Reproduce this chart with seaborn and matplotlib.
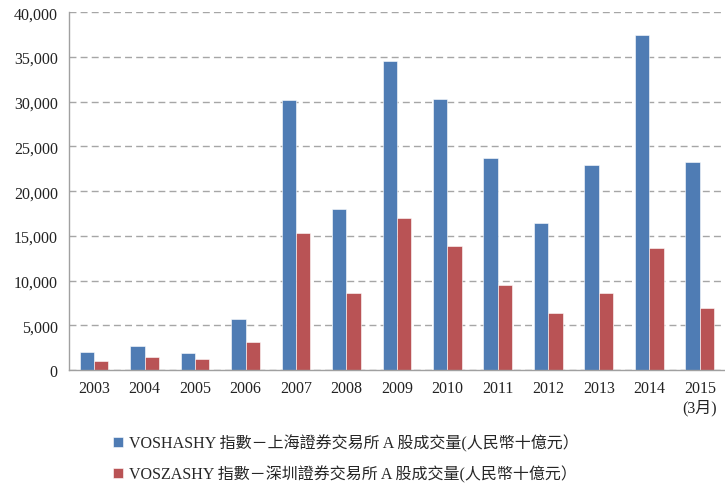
import seaborn as sns
import matplotlib.pyplot as plt
from matplotlib.ticker import FuncFormatter, FixedLocator
import pandas as pd
import numpy as np

years = ["2003", "2004", "2005", "2006", "2007", "2008", "2009", "2010",
         "2011", "2012", "2013", "2014", "2015\n(3月)"]
sh_volume = [2050, 2650, 1900, 5750, 30200, 18000, 34500, 30300,
             23700, 16400, 22900, 37500, 23300]
sz_volume = [1050, 1500, 1200, 3200, 15300, 8600, 17000, 13900,
             9500, 6400, 8600, 13600, 7000]
series_names = ["VOSHASHY 指數－上海證券交易所 A 股成交量(人民幣十億元）",
                "VOSZASHY 指數－深圳證券交易所 A 股成交量(人民幣十億元）"]
colors = ["#4F7CB4", "#B95355"]

df = pd.DataFrame({
    "year": years * 2,
    "value": sh_volume + sz_volume,
    "series": [series_names[0]] * len(years) + [series_names[1]] * len(years),
})

sns.set_style("white")
plt.rcParams["font.family"] = ["Liberation Serif", "Noto Sans CJK TC"]

fig = plt.figure(figsize=(7.25, 4.89), dpi=100)
ax = fig.add_axes([0.095, 0.241, 0.905, 0.732])

sns.barplot(data=df, x="year", y="value", hue="series", palette=colors,
            width=0.57, saturation=1, ax=ax, edgecolor="white", linewidth=0.4)

ax.set_ylim(0, 40000)
ax.set_xlim(-0.5, len(years) - 0.5)
ax.set_yticks(np.arange(0, 40001, 5000))
ax.yaxis.set_major_formatter(FuncFormatter(lambda v, p: f"{int(v):,}"))
ax.grid(axis="y", linestyle=(0, (5, 3)), color="#A6A6A6", linewidth=1)
ax.set_axisbelow(True)
ax.set_xlabel("")
ax.set_ylabel("")

for s in ["top", "right"]:
    ax.spines[s].set_visible(False)
for s in ["left", "bottom"]:
    ax.spines[s].set_color("#A0A0A0")
    ax.spines[s].set_linewidth(1)

ax.tick_params(axis="y", length=5, color="#A0A0A0", labelsize=11.5, pad=3, labelcolor="#222222")
ax.xaxis.set_minor_locator(FixedLocator(np.arange(-0.5, len(years), 1.0)))
ax.tick_params(axis="x", which="major", length=0, labelsize=11.5, pad=7, labelcolor="#222222")
ax.tick_params(axis="x", which="minor", length=5, color="#A0A0A0")

handles, labels = ax.get_legend_handles_labels()
ax.legend(handles, labels, loc="upper left", bbox_to_anchor=(0.145, 0.127),
          bbox_transform=fig.transFigure, frameon=False, fontsize=11.5,
          handlelength=0.6, handleheight=0.6, handletextpad=0.4,
          labelspacing=0.85, borderpad=0)

fig.savefig("out.png", dpi=100)
